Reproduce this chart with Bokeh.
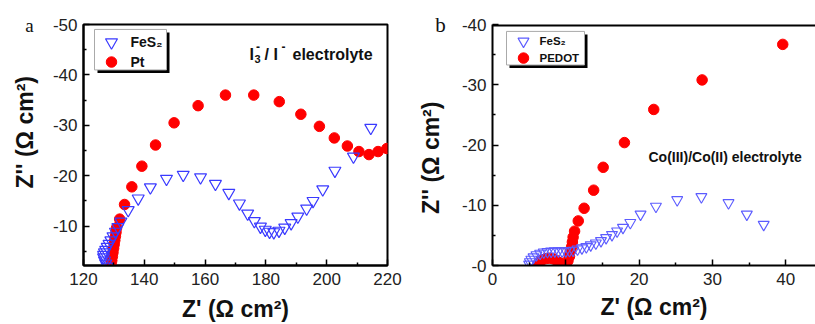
from bokeh.plotting import figure
from bokeh.models import Range1d, FixedTicker, Label, Span
from bokeh.layouts import row
from bokeh.embed import file_html
from bokeh.resources import INLINE

# ---------------- data: panel a (I3-/I- electrolyte) ----------------
a_fes2_x = [127.8, 127.3, 126.9, 126.6, 126.6, 126.9, 127.3, 127.8, 128.4, 129.0,
            129.7, 130.5, 131.3, 132.3, 134.7, 138.0, 142.0, 147.3, 152.8, 158.5,
            163.4, 167.8, 171.3, 174.0, 176.2, 178.2, 179.8, 181.2, 182.6, 184.3,
            186.2, 188.3, 190.5, 193.4, 195.5, 198.7, 202.7, 208.8, 214.5]
a_fes2_y = [-2.0, -2.6, -3.2, -3.8, -4.3, -4.8, -5.3, -5.9, -6.5, -7.2,
            -8.0, -8.9, -9.8, -10.9, -13.2, -15.5, -17.7, -19.4, -20.2, -19.7,
            -18.4, -16.6, -14.5, -12.5, -11.0, -9.9, -9.3, -8.9, -8.8, -9.1,
            -9.7, -10.6, -11.9, -13.5, -15.0, -17.3, -21.0, -23.8, -29.5]
a_pt_x = [129.1, 129.3, 129.5, 129.7, 129.9, 130.1, 130.3, 130.5, 130.7, 130.9,
          131.9, 133.5, 135.9, 139.2, 143.7, 149.8, 157.7, 166.7, 176.0, 184.4,
          191.5, 197.6, 202.5, 206.8, 210.6, 213.9, 216.9, 219.8]
a_pt_y = [-2.4, -3.2, -4.0, -4.8, -5.6, -6.4, -7.2, -8.0, -8.8, -9.7,
          -11.4, -14.3, -17.8, -21.9, -26.1, -30.5, -33.9, -36.0, -36.0, -34.7,
          -32.2, -29.8, -27.5, -25.9, -24.8, -24.2, -24.8, -25.4]
a_xticks = [120, 140, 160, 180, 200, 220]
a_xminor = [130, 150, 170, 190, 210]
a_yticks = [-50, -40, -30, -20, -10]
a_yminor = [-45, -35, -25, -15, -5]
a_ylabels = ["-50", "-40", "-30", "-20", "-10"]

# ---------------- data: panel b (Co(III)/Co(II) electrolyte) ----------------
b_fes2_x = [5.0, 5.1, 5.3, 5.6, 6.0, 6.5, 7.0, 7.5, 8.0, 8.5, 9.0, 9.5, 10.0, 10.5,
            11.0, 11.6, 12.2, 12.8, 13.4, 14.1, 14.8, 15.5, 16.3, 17.0, 17.8, 18.8,
            20.2, 22.3, 25.2, 28.5, 32.2, 34.7, 37.0]
b_fes2_y = [-0.2, -0.6, -1.0, -1.4, -1.75, -2.0, -2.2, -2.3, -2.35, -2.4, -2.4, -2.4,
            -2.4, -2.45, -2.5, -2.7, -2.9, -3.1, -3.4, -3.7, -4.1, -4.6, -5.1, -5.7,
            -6.3, -7.1, -8.5, -9.8, -10.9, -11.4, -10.4, -8.5, -6.8]
b_pedot_x = [6.2, 6.4, 6.8, 7.3, 7.8, 8.3, 8.7, 9.1, 9.4, 9.8, 10.1, 10.3, 10.5,
             10.6, 10.8, 10.9, 11.0, 11.2, 11.7, 12.5, 13.8, 15.1, 18.0, 22.0,
             28.6, 39.6]
b_pedot_y = [-0.2, -0.6, -0.95, -1.15, -1.2, -1.1, -0.85, -0.5, -0.2, -0.1, -0.3,
             -0.8, -1.5, -2.3, -3.1, -3.9, -4.7, -5.7, -7.4, -9.5, -12.5, -16.3,
             -20.4, -25.9, -30.8, -36.7]
b_xticks = [0, 10, 20, 30, 40]
b_xminor = [5, 15, 25, 35]
b_yticks = [-40, -30, -20, -10, 0]
b_yminor = [-35, -25, -15, -5]
b_ylabels = ["-40", "-30", "-20", "-10", "-0"]

SANS = "Liberation Sans"
SERIF = "Liberation Serif"
RED = "#ff0000"
BLUE_A = "#3a3aff"
BLUE_B = "#5c5cff"
NB = "\u00a0"

# ---------------- geometry (picture pixels) ----------------
A_L, A_W, A_T, A_H = 83, 304, 23, 244
B_L, B_W, B_T, B_H = 492, 323, 24, 244
AX0, AX1, AY0, AY1 = 120, 220, -2.2, -50
BX0, BX1, BY0, BY1 = 0, 44.07, 0, -40


def ax(px):
    return AX0 + (px - A_L) * (AX1 - AX0) / A_W


def ay(py):
    return AY0 + (A_T + A_H - py) * (AY1 - AY0) / A_H


def bx(px):
    return BX0 + (px - B_L) * (BX1 - BX0) / B_W


def by(py):
    return BY0 + (B_T + B_H - py) * (BY1 - BY0) / B_H


def style_axes(p, xticks, xminor, yticks, yminor, ylabels, xlabel, ylabel,
               xstandoff, ystandoff):
    for axis in (p.xaxis[0], p.yaxis[0]):
        axis.axis_line_width = 2
        axis.axis_line_color = "black"
        axis.major_tick_in = 6
        axis.major_tick_out = 0
        axis.minor_tick_in = 3
        axis.minor_tick_out = 0
        axis.major_tick_line_width = 1.5
        axis.minor_tick_line_width = 1.5
        axis.major_label_text_font = SANS
        axis.major_label_text_font_size = "17px"
        axis.major_label_text_color = "#222222"
        axis.axis_label_text_font = SANS
        axis.axis_label_text_font_style = "bold"
        axis.axis_label_text_font_size = "23px"
        axis.axis_label_text_color = "#111111"
    p.xaxis[0].ticker = FixedTicker(ticks=xticks, minor_ticks=xminor)
    p.yaxis[0].ticker = FixedTicker(ticks=yticks, minor_ticks=yminor)
    p.yaxis[0].major_label_overrides = {t: s for t, s in zip(yticks, ylabels)}
    p.xaxis[0].major_label_overrides = {t: str(t) for t in xticks}
    p.xaxis[0].major_label_standoff = 7
    p.yaxis[0].major_label_standoff = 6
    p.xaxis[0].axis_label = xlabel
    p.yaxis[0].axis_label = ylabel
    p.xaxis[0].axis_label_standoff = xstandoff
    p.yaxis[0].axis_label_standoff = ystandoff
    p.xgrid.visible = False
    p.ygrid.visible = False


def add_label(p, x, y, text, size, font=SANS, style="bold", align="left",
              baseline="alphabetic", place=None):
    lab = Label(x=x, y=y, text=text, text_font=font, text_font_size=size,
                text_font_style=style, text_align=align,
                text_baseline=baseline, text_color="#111111")
    if place is None:
        p.add_layout(lab)
    else:
        p.add_layout(lab, place)


# ---------------- panel a ----------------
pa = figure(width=410, height=324, output_backend="svg", toolbar_location=None,
            x_range=Range1d(AX0, AX1), y_range=Range1d(AY0, AY1),
            min_border_left=83, min_border_right=23, min_border_top=23,
            min_border_bottom=57, background_fill_color="white",
            border_fill_color="white")
pa.outline_line_color = "black"
pa.outline_line_width = 2
style_axes(pa, a_xticks, a_xminor, a_yticks, a_yminor, a_ylabels,
           "Z' (Ω cm²)", NB * 4 + "Z'' (Ω cm²)", 8, 12)

pa.scatter(a_pt_x, a_pt_y, marker="circle", size=10.5, fill_color=RED,
           line_color=RED)
pa.scatter(a_fes2_x, a_fes2_y, marker="inverted_triangle", size=12,
           fill_color=None, line_color=BLUE_A, line_width=1.2)

# legend (box with shadow)
pa.quad(left=ax(97), right=ax(169), top=ay(31), bottom=ay(72), fill_color="black",
        line_color=None)
pa.quad(left=ax(94), right=ax(166), top=ay(28), bottom=ay(69), fill_color="white",
        line_color="#aaaaaa", line_width=1)
pa.scatter([ax(111)], [ay(41)], marker="inverted_triangle", size=12,
           fill_color=None, line_color=BLUE_A, line_width=1.2)
pa.scatter([ax(111)], [ay(61)], marker="circle", size=10.5, fill_color=RED,
           line_color=RED)
add_label(pa, ax(130), ay(41), "FeS₂", "14px", baseline="middle")
add_label(pa, ax(130), ay(61), "Pt", "14px", baseline="middle")

# "I3- / I- electrolyte" built from pieces (sub/superscripts)
add_label(pa, ax(249), ay(53), "I", "16px")
add_label(pa, ax(254), ay(58), "3", "11px")
add_label(pa, ax(255.5), ay(45), "-", "12px")
add_label(pa, ax(264), ay(53), "/ I", "16px")
add_label(pa, ax(281), ay(45), "-", "12px")
add_label(pa, ax(292), ay(53), "electrolyte", "16px")

add_label(pa, ax(29), ay(24), "a", "19px", font=SERIF, style="normal",
          align="center", baseline="middle", place="above")

# ---------------- panel b ----------------
pb = figure(width=405, height=324, output_backend="svg", toolbar_location=None,
            x_range=Range1d(BX0, BX1), y_range=Range1d(BY0, BY1),
            min_border_left=82, min_border_right=0, min_border_top=24,
            min_border_bottom=56, background_fill_color="white",
            border_fill_color="white")
pb.outline_line_color = None
style_axes(pb, b_xticks, b_xminor, b_yticks, b_yminor, b_ylabels,
           "Z' (Ω cm²)", "Z'' (Ω cm²)" + NB * 4, 6, 15)
pb.add_layout(Span(location=BY1, dimension="width", line_color="black",
                   line_width=4))

pb.scatter(b_pedot_x, b_pedot_y, marker="circle", size=10.5, fill_color=RED,
           line_color=RED)
pb.scatter(b_fes2_x, b_fes2_y, marker="inverted_triangle", size=11,
           fill_color=None, line_color=BLUE_B, line_width=1.1)

pb.quad(left=bx(509), right=bx(587), top=by(34), bottom=by(68), fill_color="black",
        line_color=None)
pb.quad(left=bx(506), right=bx(584), top=by(31), bottom=by(65), fill_color="white",
        line_color="#aaaaaa", line_width=1)
pb.scatter([bx(523)], [by(41)], marker="inverted_triangle", size=11,
           fill_color=None, line_color=BLUE_B, line_width=1.1)
pb.scatter([bx(523)], [by(58)], marker="circle", size=10.5, fill_color=RED,
           line_color=RED)
add_label(pb, bx(539), by(41), "FeS₂", "11.5px", baseline="middle")
add_label(pb, bx(539), by(58), "PEDOT", "11.5px", baseline="middle")

add_label(pb, bx(648), by(158), "Co(III)/Co(II) electrolyte", "14px")
add_label(pb, bx(440), by(25), "b", "21px", font=SERIF, style="normal",
          align="center", baseline="middle", place="above")

layout = row(pa, pb)
open("out.html", "w").write(file_html(layout, INLINE))
